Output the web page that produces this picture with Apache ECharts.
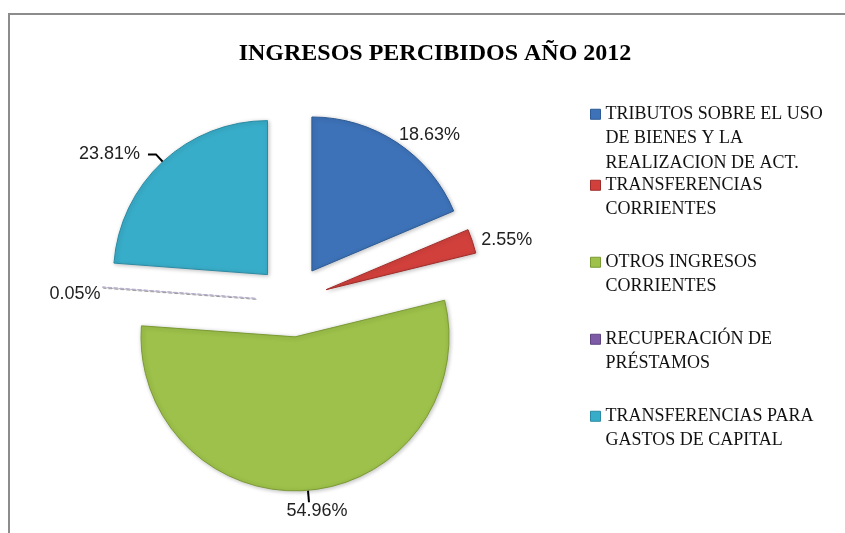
<!DOCTYPE html>
<html>
<head>
<meta charset="UTF-8">
<title>Ingresos percibidos 2012</title>
<script src="https://cdn.jsdelivr.net/npm/echarts@6/dist/echarts.min.js"></script>
<style type="text/css">
	html, body { margin:0px; padding:0px; background-color:#FFFFFF; }
	#container { width:845px; height:533px; }
</style>
</head>
<body>
<div id="container"></div>

<script type="text/javascript">

var chartTitle = 'INGRESOS PERCIBIDOS AÑO 2012';
var categories = [
	'TRIBUTOS SOBRE EL USO\nDE BIENES Y LA\nREALIZACION DE ACT.',
	'TRANSFERENCIAS\nCORRIENTES',
	'OTROS INGRESOS\nCORRIENTES',
	'RECUPERACIÓN DE\nPRÉSTAMOS',
	'TRANSFERENCIAS PARA\nGASTOS DE CAPITAL'
];
var values = [18.63, 2.55, 54.96, 0.05, 23.81];

var colorsList = ['#3d72b8', '#d2403c', '#9dc14a', '#7e5ba6', '#38adc9'];
var borderList = ['#2c5a94', '#a02c29', '#7a9a33', '#5f4482', '#2a8aa3'];

var dom = document.getElementById("container");
var myChart = echarts.init(dom);

// leader line tweaks per slice (index -> labelLine)
var lineTweaks = {
	0: { show: false, length: 2, length2: 0 },
	1: { show: false, length: 4, length2: 0 },
	2: { show: true, length: 12, length2: 0 },
	3: { show: false, length: 0, length2: 0 },
	4: { show: true, length: 10, length2: 8 }
};
// small nudges of the percentage texts
var labelNudge = {
	0: { dx: -7, dy: -6 },
	1: { dx: -3, dy: 0 },
	3: { dx: 6, dy: 7 }
};

var pieData = [];
for (var i = 0; i < categories.length; i++) {
	var style = { color: colorsList[i], borderColor: borderList[i] };
	if (i == 3) {
		// the tiny slice shows up as a faint dashed sliver
		style = { color: 'rgba(126,91,166,0.2)', borderColor: '#b6adc9', borderType: 'dashed', borderWidth: 1, shadowBlur: 0 };
	}
	pieData.push({
		name: categories[i],
		value: values[i],
		selected: true,
		itemStyle: style,
		labelLine: lineTweaks[i]
	});
}

var legendData = [];
for (var j = 0; j < categories.length; j++) {
	legendData.push({
		name: categories[j],
		itemStyle: { color: colorsList[j], borderColor: borderList[j], borderType: 'solid', borderWidth: 1 }
	});
}

var legendText = {
	fontFamily: 'Liberation Serif',
	fontSize: 18,
	lineHeight: 24.5,
	color: '#111111'
};

var option = {
	animation: false,
	graphic: [{
		type: 'rect',
		silent: true,
		z: -10,
		shape: { x: 9, y: 14, width: 900, height: 600 },
		style: { fill: 'none', stroke: '#8c8c8c', lineWidth: 2 }
	}],
	title: {
		text: chartTitle,
		left: 430,
		top: 37,
		textAlign: 'center',
		textStyle: {
			fontFamily: 'Liberation Serif',
			fontWeight: 'bold',
			fontSize: 24,
			color: '#000000'
		}
	},
	legend: [{
		data: legendData.slice(0, 1),
		orient: 'vertical',
		left: 585,
		top: 97,
		itemWidth: 10,
		itemHeight: 59,
		icon: 'path://M0,0h10v10h-10zM0,59',
		selectedMode: false,
		textStyle: legendText
	}, {
		data: legendData.slice(1),
		orient: 'vertical',
		left: 585,
		top: 168,
		itemGap: 28,
		itemWidth: 10,
		itemHeight: 34.5,
		icon: 'path://M0,0h10v10h-10zM0,34.5',
		selectedMode: false,
		textStyle: legendText
	}],
	series: [{
		type: 'pie',
		center: [292, 301],
		radius: 154,
		startAngle: 90,
		clockwise: true,
		minAngle: 0,
		selectedMode: 'multiple',
		selectedOffset: 36,
		avoidLabelOverlap: false,
		emphasis: { disabled: true },
		itemStyle: {
			borderWidth: 1,
			shadowBlur: 4,
			shadowColor: 'rgba(0,0,0,0.25)',
			shadowOffsetX: 1,
			shadowOffsetY: 1
		},
		label: {
			show: true,
			position: 'outside',
			fontFamily: 'Liberation Sans',
			fontSize: 18,
			color: '#222222',
			distanceToLabelLine: 8,
			formatter: function (p) { return p.value.toFixed(2) + '%'; }
		},
		labelLine: {
			lineStyle: { color: '#000000', width: 2 }
		},
		labelLayout: function (params) {
			if (params.dataIndex == 2) {
				// big slice: text centred under the end of its tick
				var pts = params.labelLinePoints;
				var end = pts[pts.length - 1];
				return { x: end[0] + 9, y: end[1] + 5, align: 'center', verticalAlign: 'top', labelLinePoints: pts };
			}
			return labelNudge[params.dataIndex] || {};
		},
		data: pieData
	}]
};

myChart.setOption(option, true);

window.onresize = function() {
	myChart.resize();
};
</script>
</body>
</html>
